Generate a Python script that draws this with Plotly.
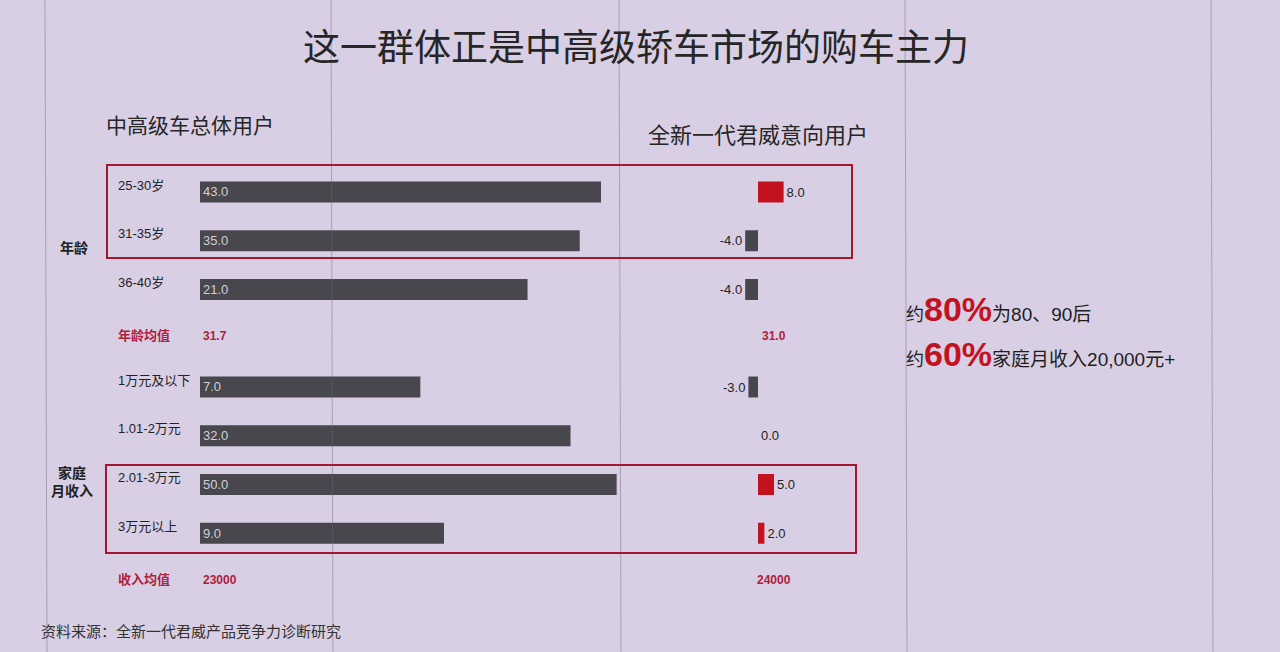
import plotly.graph_objects as go

W, H = 1280, 652

# ---------------- data ----------------
title_text = "这一群体正是中高级轿车市场的购车主力"
left_header = "中高级车总体用户"
right_header = "全新一代君威意向用户"

categories = ["25-30岁", "31-35岁", "36-40岁", "年龄均值",
              "1万元及以下", "1.01-2万元", "2.01-3万元", "3万元以上", "收入均值"]
overall_share = [43.0, 35.0, 21.0, None, 7.0, 32.0, 50.0, 9.0, None]
buick_diff = [8.0, -4.0, -4.0, None, -3.0, 0.0, 5.0, 2.0, None]

mean_rows = ["年龄均值", "收入均值"]
overall_means = ["31.7", "23000"]
buick_means = ["31.0", "24000"]

group_labels = ["年龄", "家庭<br>月收入"]
highlight_notes = [("约", "80%", "为80、90后"), ("约", "60%", "家庭月收入20,000元+")]
source_text = "资料来源：全新一代君威产品竞争力诊断研究"

# ---------------- style ----------------
BG = "#d8cfe4"
BAR_GRAY = "#48474d"
RED = "#c3121f"
BOX_RED = "#a3172f"
MEAN_RED = "#b0203c"
FONT = "Liberation Sans, Noto Sans CJK SC, sans-serif"
CJK = "Noto Sans CJK SC, sans-serif"


def px(x):
    return x / W


def py(y):
    return 1 - y / H


fig = go.Figure()

# left: overall users (log-scaled bar lengths as in the slide)
fig.add_trace(go.Bar(
    y=categories, x=overall_share, base=1, orientation="h",
    xaxis="x", yaxis="y",
    marker=dict(color=BAR_GRAY, line=dict(width=0)),
    texttemplate="%{x:.1f}", textposition="inside", insidetextanchor="start",
    textfont=dict(color="#d0d0d4", size=13, family=FONT),
    hoverinfo="skip", showlegend=False,
))

# right: Regal intention users difference
bar_colors = [RED if (v is not None and v > 0) else BAR_GRAY for v in buick_diff]
fig.add_trace(go.Bar(
    y=categories, x=buick_diff, orientation="h",
    xaxis="x2", yaxis="y",
    marker=dict(color=bar_colors, line=dict(width=0)),
    texttemplate="%{x:.1f}", textposition="outside", cliponaxis=False,
    textfont=dict(color="#222222", size=13, family=FONT),
    hoverinfo="skip", showlegend=False,
))

# axes geometry
row_top, row_step = 192, 48.75
y_top_px = row_top - 0.5 * row_step
y_bot_px = row_top + (len(categories) - 0.5) * row_step

fig.update_layout(
    width=W, height=H, autosize=False,
    margin=dict(l=0, r=0, t=0, b=0),
    paper_bgcolor=BG, plot_bgcolor="rgba(0,0,0,0)",
    bargap=0.57,
    font=dict(family=FONT, color="#222222"),
    xaxis=dict(type="log", domain=[px(200), px(688)], range=[0, 2],
               showgrid=False, zeroline=False, showticklabels=False,
               showline=False, anchor="y"),
    xaxis2=dict(domain=[px(700), px(860)], range=[-18.125, 31.875],
                showgrid=False, zeroline=False, showticklabels=False,
                showline=False, anchor="y"),
    yaxis=dict(type="category", categoryorder="array", categoryarray=categories,
               domain=[py(y_bot_px), py(y_top_px)],
               range=[len(categories) - 0.5, -0.5],
               showgrid=False, zeroline=False, showticklabels=False, showline=False),
)

annotations = []
shapes = []

# faint vertical slide grid lines
for xl in [45, 331, 619, 905, 1211]:
    shapes.append(dict(type="line", xref="paper", yref="paper",
                       x0=px(xl), x1=px(xl + 2), y0=1, y1=0,
                       line=dict(color="rgba(110,100,125,0.45)", width=1)))

# title and headers
annotations.append(dict(text=title_text, xref="paper", yref="paper",
                        x=px(636), y=py(45), xanchor="center", yanchor="middle",
                        showarrow=False,
                        font=dict(size=37, color="#262626", family=CJK)))
annotations.append(dict(text=left_header, xref="paper", yref="paper",
                        x=px(104), y=py(124), xanchor="left", yanchor="middle",
                        showarrow=False,
                        font=dict(size=21, color="#262626", family=CJK)))
annotations.append(dict(text=right_header, xref="paper", yref="paper",
                        x=px(646), y=py(133), xanchor="left", yanchor="middle",
                        showarrow=False,
                        font=dict(size=22, color="#262626", family=CJK)))

# category labels
for cat in categories:
    is_mean = cat in mean_rows
    annotations.append(dict(
        text=f"<b>{cat}</b>" if is_mean else cat,
        xref="paper", yref="y", x=px(116), y=cat, xanchor="left", yanchor="middle",
        yshift=7 if not is_mean else 3,
        showarrow=False,
        font=dict(size=13, color=MEAN_RED if is_mean else "#222222", family=FONT)))

# mean values
for cat, lv, rv in zip(mean_rows, overall_means, buick_means):
    annotations.append(dict(text=f"<b>{lv}</b>", xref="paper", yref="y",
                            x=px(201), y=cat, xanchor="left", yanchor="middle",
                            yshift=2, showarrow=False,
                            font=dict(size=12, color=MEAN_RED, family=FONT)))
    annotations.append(dict(text=f"<b>{rv}</b>", xref="x2", yref="y",
                            x=5, y=cat, xanchor="center", yanchor="middle",
                            yshift=2, showarrow=False,
                            font=dict(size=12, color=MEAN_RED, family=FONT)))

# group labels
annotations.append(dict(text=f"<b>{group_labels[0]}</b>", xref="paper", yref="paper",
                        x=px(74), y=py(247), xanchor="center", yanchor="middle",
                        showarrow=False,
                        font=dict(size=14, color="#222222", family=CJK)))
annotations.append(dict(text=f"<b>{group_labels[1]}</b>", xref="paper", yref="paper",
                        x=px(72), y=py(481), xanchor="center", yanchor="middle",
                        showarrow=False,
                        font=dict(size=14, color="#222222", family=CJK)))

# highlight notes
for (pre, big, post), yy in zip(highlight_notes, [309, 354]):
    annotations.append(dict(
        text=(f"<span style='font-size:18px'>{pre}</span>"
              f"<span style='font-size:34px;color:{RED}'><b>{big}</b></span>"
              f"<span style='font-size:19px'>{post}</span>"),
        xref="paper", yref="paper", x=px(904), y=py(yy), xanchor="left",
        yanchor="middle", showarrow=False, font=dict(color="#1e1e1e", family=FONT)))

# source
annotations.append(dict(text=source_text, xref="paper", yref="paper",
                        x=px(39), y=py(630), xanchor="left", yanchor="middle",
                        showarrow=False,
                        font=dict(size=15, color="#333333", family=CJK)))

# highlight boxes
for x0, y0, x1, y1 in [(107, 165, 852, 258), (106, 465, 856, 553)]:
    shapes.append(dict(type="rect", xref="paper", yref="paper",
                       x0=px(x0), x1=px(x1), y0=py(y0), y1=py(y1),
                       line=dict(color=BOX_RED, width=2), fillcolor="rgba(0,0,0,0)"))

fig.update_layout(annotations=annotations, shapes=shapes)

fig.write_html(
    "out.html",
    config={"displayModeBar": False},
    post_script="document.body.style.margin='0';document.body.style.overflow='hidden';",
)
